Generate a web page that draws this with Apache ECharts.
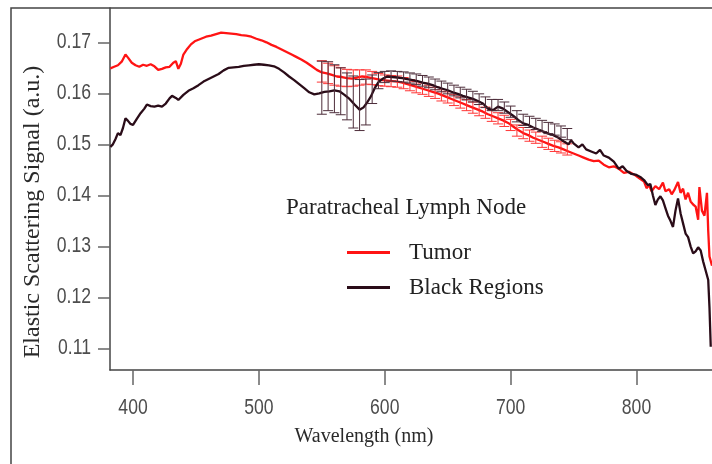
<!DOCTYPE html>
<html>
<head>
<meta charset="utf-8">
<script src="https://cdn.jsdelivr.net/npm/echarts@6/dist/echarts.min.js"></script>
<style>html,body{margin:0;padding:0;background:#fff}#c{width:712px;height:464px}</style>
</head>
<body>
<div id="c"></div>
<script>
// ---- data (wavelength nm, elastic scattering signal a.u.) ----
const xTicks = [400, 500, 600, 700, 800];
const yTicks = [0.11, 0.12, 0.13, 0.14, 0.15, 0.16, 0.17];
const xTickLabels = ['400', '500', '600', '700', '800'];
const yTickLabels = ['0.11', '0.12', '0.13', '0.14', '0.15', '0.16', '0.17'];

const tumor = [
[382,0.1649],[385,0.1652],[388,0.1655],[391,0.1662],[394,0.1676],[396,0.1670],[399,0.1660],[402,0.1655],
[405,0.1652],[408,0.1656],[411,0.1654],[414,0.1657],[417,0.1653],[420,0.1646],[423,0.1648],[426,0.1651],
[429,0.1652],[432,0.1660],[434,0.1663],[436,0.1648],[438,0.1658],[440,0.1676],[443,0.1687],[446,0.1696],
[449,0.1702],[452,0.1705],[455,0.1708],[458,0.1711],[462,0.1713],[466,0.1716],[470,0.1719],[474,0.1718],
[478,0.1717],[482,0.1716],[486,0.1714],[490,0.1713],[494,0.1711],[498,0.1707],[502,0.1704],[506,0.1700],
[510,0.1695],[514,0.1691],[518,0.1686],[522,0.1681],[526,0.1676],[530,0.1671],[534,0.1666],[538,0.1660],
[542,0.1653],[546,0.1646],[550,0.1641],[554,0.1639],[558,0.1636],[562,0.1633],[566,0.1632],[570,0.1630],
[574,0.1629],[578,0.1631],[582,0.1633],[586,0.1632],[590,0.1630],[594,0.1628],[598,0.1626],[602,0.1625],
[606,0.1624],[610,0.1623],[614,0.1621],[618,0.1618],[622,0.1615],[626,0.1612],[630,0.1609],[634,0.1606],
[638,0.1603],[642,0.1600],[646,0.1596],[650,0.1592],[654,0.1588],[658,0.1584],[662,0.1580],[666,0.1576],
[670,0.1572],[674,0.1568],[678,0.1564],[682,0.1559],[686,0.1555],[690,0.1551],[694,0.1547],[698,0.1542],
[702,0.1535],[706,0.1528],[710,0.1522],[714,0.1518],[718,0.1513],[722,0.1509],[726,0.1505],[730,0.1501],
[734,0.1497],[738,0.1494],[742,0.1490],[746,0.1486],[750,0.1482],[754,0.1478],[758,0.1474],[762,0.1470],
[766,0.1467],[770,0.1468],[774,0.1460],[778,0.1455],[782,0.1457],[786,0.1452],[790,0.1444],[794,0.1446],
[798,0.1441],[802,0.1434],[806,0.1427],[808,0.1414],[810,0.1420],[812,0.1408],[815,0.1418],[818,0.1412],
[821,0.1425],[823,0.1408],[826,0.1412],[828,0.1402],[830,0.1410],[833,0.1426],[835,0.1405],[837,0.1413],
[839,0.1392],[841,0.1405],[843,0.1388],[845,0.1382],[847,0.1378],[849,0.1352],[850,0.1416],[852,0.1370],
[854,0.1360],[856,0.1405],[857,0.1330],[858,0.1280],[860,0.1262]
];

const blackRegions = [
[382,0.1495],[384,0.1500],[386,0.1510],[388,0.1522],[390,0.1518],[392,0.1532],[394,0.1551],[396,0.1546],
[398,0.1540],[400,0.1538],[403,0.1550],[406,0.1561],[409,0.1570],[411,0.1578],[414,0.1575],[417,0.1574],
[420,0.1576],[423,0.1574],[426,0.1580],[429,0.1590],[431,0.1595],[434,0.1591],[436,0.1587],[440,0.1597],
[444,0.1605],[448,0.1610],[452,0.1616],[456,0.1623],[460,0.1628],[464,0.1633],[468,0.1638],[472,0.1645],
[476,0.1650],[480,0.1651],[484,0.1652],[488,0.1654],[492,0.1655],[496,0.1656],[500,0.1657],[504,0.1656],
[508,0.1655],[512,0.1653],[516,0.1648],[520,0.1641],[524,0.1633],[528,0.1626],[532,0.1618],[536,0.1610],
[540,0.1602],[544,0.1598],[548,0.1600],[552,0.1603],[556,0.1604],[560,0.1606],[564,0.1604],[568,0.1597],
[572,0.1589],[576,0.1578],[580,0.1568],[583,0.1572],[586,0.1582],[589,0.1594],[592,0.1610],[595,0.1622],
[598,0.1628],[602,0.1633],[606,0.1632],[610,0.1631],[614,0.1630],[618,0.1628],[622,0.1626],[626,0.1624],
[630,0.1621],[634,0.1619],[638,0.1616],[642,0.1612],[646,0.1609],[650,0.1606],[654,0.1602],[658,0.1599],
[662,0.1595],[666,0.1592],[670,0.1589],[674,0.1585],[678,0.1580],[682,0.1570],[686,0.1567],[690,0.1574],
[694,0.1570],[698,0.1563],[702,0.1556],[706,0.1548],[710,0.1541],[714,0.1538],[718,0.1533],[722,0.1529],
[726,0.1525],[730,0.1521],[734,0.1518],[738,0.1513],[742,0.1506],[746,0.1500],[748,0.1508],[750,0.1502],
[754,0.1494],[757,0.1500],[760,0.1490],[764,0.1486],[768,0.1482],[771,0.1489],[774,0.1478],[778,0.1474],
[782,0.1466],[786,0.1452],[789,0.1457],[792,0.1448],[796,0.1442],[800,0.1440],[803,0.1436],[806,0.1430],
[809,0.1420],[811,0.1422],[813,0.1400],[815,0.1381],[817,0.1392],[819,0.1398],[821,0.1390],[823,0.1375],
[825,0.1360],[827,0.1350],[829,0.1338],[831,0.1370],[833,0.1394],[835,0.1365],[837,0.1345],[839,0.1325],
[841,0.1318],[843,0.1300],[845,0.1286],[847,0.1290],[849,0.1298],[851,0.1292],[853,0.1270],[855,0.1252],
[857,0.1234],[858,0.1180],[859,0.1103]
];

// error bars: [wavelength, low, high]
const tumorErr = [
[550,0.1622,0.1664],[555,0.1619,0.1659],[560,0.1616,0.1654],[565,0.1614,0.1650],[570,0.1613,0.1647],
[575,0.1614,0.1646],[580,0.1616,0.1646],[585,0.1618,0.1646],[590,0.1617,0.1643],[595,0.1615,0.1639],
[600,0.1614,0.1636],[605,0.1613,0.1635],[610,0.1612,0.1634],[615,0.1609,0.1631],[620,0.1605,0.1627],
[625,0.1601,0.1623],[630,0.1598,0.1620],[635,0.1594,0.1616],[640,0.1590,0.1612],[645,0.1585,0.1607],
[650,0.1581,0.1603],[655,0.1576,0.1598],[660,0.1571,0.1593],[665,0.1566,0.1588],[670,0.1561,0.1583],
[675,0.1556,0.1578],[680,0.1551,0.1573],[685,0.1545,0.1567],[690,0.1540,0.1562],[695,0.1535,0.1557],
[700,0.1527,0.1549],[705,0.1516,0.1538],[710,0.1511,0.1533],[715,0.1506,0.1528],[720,0.1502,0.1524],
[725,0.1494,0.1516],[730,0.1490,0.1512],[735,0.1486,0.1508],[740,0.1483,0.1505],[745,0.1479,0.1501]
];
const blackErr = [
[550,0.1559,0.1663],[555,0.1566,0.1662],[560,0.1562,0.1656],[565,0.1558,0.1650],[570,0.1548,0.1640],
[575,0.1532,0.1634],[580,0.1527,0.1627],[585,0.1538,0.1628],[590,0.1580,0.1636],[595,0.1609,0.1641],
[600,0.1621,0.1643],[605,0.1624,0.1644],[610,0.1623,0.1643],[615,0.1622,0.1642],[620,0.1620,0.1640],
[625,0.1617,0.1638],[630,0.1614,0.1635],[635,0.1611,0.1632],[640,0.1607,0.1628],[645,0.1603,0.1624],
[650,0.1599,0.1620],[655,0.1595,0.1616],[660,0.1591,0.1612],[665,0.1587,0.1608],[670,0.1583,0.1604],
[675,0.1578,0.1599],[680,0.1572,0.1593],[685,0.1566,0.1588],[690,0.1566,0.1588],[695,0.1561,0.1583],
[700,0.1553,0.1575],[705,0.1544,0.1566],[710,0.1537,0.1559],[715,0.1533,0.1555],[720,0.1529,0.1551],
[725,0.1525,0.1547],[730,0.1521,0.1543],[735,0.1518,0.1540],[740,0.1514,0.1536],[745,0.1509,0.1531]
];

const X_MIN = 381.7, X_MAX = 860, Y_MIN = 0.10575, Y_MAX = 0.17673;
const RED = '#ff1414';
const DARK = '#2a0c18';
const tickFont = "'Liberation Sans','Arial',sans-serif";
const serif = "'Liberation Serif','DejaVu Serif',serif";

function errRender(color) {
  return function (params, api) {
    const x = api.value(0);
    const top = api.coord([x, api.value(2)]);
    const bot = api.coord([x, api.value(1)]);
    const w = 5;
    const st = { stroke: color, lineWidth: 1 };
    return {
      type: 'group',
      children: [
        { type: 'line', shape: { x1: top[0], y1: top[1], x2: bot[0], y2: bot[1] }, style: st },
        { type: 'line', shape: { x1: top[0] - w, y1: top[1], x2: top[0] + w, y2: top[1] }, style: st },
        { type: 'line', shape: { x1: bot[0] - w, y1: bot[1], x2: bot[0] + w, y2: bot[1] }, style: st }
      ]
    };
  };
}

const chart = echarts.init(document.getElementById('c'), null, { renderer: 'canvas' });
chart.setOption({
  animation: false,
  backgroundColor: '#fff',
  grid: { left: 110, top: 8, right: 0, bottom: 94, containLabel: false },
  title: {
    text: 'Paratracheal Lymph Node', left: 286, top: 196, padding: 0,
    textStyle: { fontFamily: serif, fontSize: 23, fontWeight: 'normal', color: '#222' }
  },
  legend: {
    data: ['Tumor', 'Black Regions'], orient: 'vertical', left: 347, top: 241,
    itemWidth: 43, itemHeight: 3, itemGap: 12, icon: 'rect', padding: 0,
    textStyle: { fontFamily: serif, fontSize: 23, color: '#222', padding: [0, 0, 0, 14] }
  },
  xAxis: {
    type: 'value', min: X_MIN, max: X_MAX,
    axisLine: { show: true, lineStyle: { color: '#444', width: 1.5 } },
    axisTick: { show: true, length: 15, lineStyle: { color: '#666', width: 1.5 }, customValues: xTicks },
    axisLabel: { show: false },
    splitLine: { show: false }
  },
  yAxis: {
    type: 'value', min: Y_MIN, max: Y_MAX,
    axisLine: { show: true, lineStyle: { color: '#444', width: 1.5 } },
    axisTick: { show: true, length: 12, lineStyle: { color: '#666', width: 1.5 }, customValues: yTicks },
    axisLabel: { show: false },
    splitLine: { show: false }
  },
  graphic: [
    { id: 'frame', type: 'rect', shape: { x: 11, y: 8, width: 900, height: 700 }, style: { fill: 'none', stroke: '#444', lineWidth: 1.5 }, z: -1, silent: true },
    { id: 'ytitle', type: 'text', x: 33, y: 212, rotation: Math.PI / 2,
      style: { text: 'Elastic Scattering Signal (a.u.)', fontFamily: serif, fontSize: 24, fill: '#2a2a2a', align: 'center', verticalAlign: 'middle' } },
    { id: 'xtitle', type: 'text', x: 364, y: 437,
      style: { text: 'Wavelength (nm)', fontFamily: serif, fontSize: 20, fill: '#2a2a2a', align: 'center', verticalAlign: 'middle' } }
  ],
  series: [
    { name: 'Tumor', type: 'line', data: tumor, showSymbol: false, color: RED,
      lineStyle: { color: RED, width: 2.3 }, z: 2 },
    { name: 'TumorErr', type: 'custom', data: tumorErr, renderItem: errRender('#ff3535'), z: 3, encode: { x: 0, y: [1, 2] } },
    { name: 'Black Regions', type: 'line', data: blackRegions, showSymbol: false, color: DARK,
      lineStyle: { color: DARK, width: 2.3 }, z: 4 },
    { name: 'BlackErr', type: 'custom', data: blackErr, renderItem: errRender('#4d2d3a'), z: 5, encode: { x: 0, y: [1, 2] } }
  ]
});

// condensed tick labels, positioned through the axes' own scales
const labelEls = [];
const labelStyle = { fontFamily: tickFont, fontSize: 22, fill: '#4d4d4d' };
xTicks.forEach((v, i) => {
  const p = chart.convertToPixel({ gridIndex: 0 }, [v, Y_MIN]);
  labelEls.push({ id: 'xl' + i, type: 'text', x: p[0], y: p[1] + 38, scaleX: 0.8, silent: true,
    style: Object.assign({ text: xTickLabels[i], align: 'center', verticalAlign: 'middle' }, labelStyle) });
});
yTicks.forEach((v, i) => {
  const p = chart.convertToPixel({ gridIndex: 0 }, [X_MIN, v]);
  labelEls.push({ id: 'yl' + i, type: 'text', x: p[0] - 19, y: p[1], scaleX: 0.8, silent: true,
    style: Object.assign({ text: yTickLabels[i], align: 'right', verticalAlign: 'middle' }, labelStyle) });
});
chart.setOption({ graphic: labelEls });
</script>
</body>
</html>
